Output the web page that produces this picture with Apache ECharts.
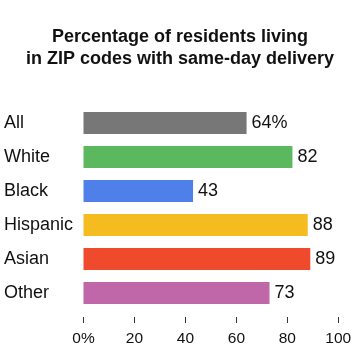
<!DOCTYPE html>
<html><head><meta charset="utf-8">
<script src="https://cdn.jsdelivr.net/npm/echarts@6/dist/echarts.min.js"></script>
<style>html,body{margin:0;padding:0;background:#fff}#c{width:360px;height:360px}</style>
</head><body><div id="c"></div>
<script>
const titleLines = ['Percentage of residents living', 'in ZIP codes with same-day delivery'];
const categories = ['All', 'White', 'Black', 'Hispanic', 'Asian', 'Other'];
const values = [64, 82, 43, 88, 89, 73];
const colors = ['#777777', '#5cb85f', '#4f80e9', '#f5bc1f', '#ef4a2b', '#bf67a9'];
const tickLabels = ['0%', '20', '40', '60', '80', '100'];

const font = '"Liberation Sans", Arial, sans-serif';
const chart = echarts.init(document.getElementById('c'), null, {renderer: 'canvas'});
chart.setOption({
  animation: false,
  title: {
    text: titleLines.join('\n'),
    left: 'center', top: 21,
    textStyle: {fontFamily: font, fontSize: 18, fontWeight: 'bold', color: '#111', lineHeight: 22}
  },
  grid: {left: 83.5, right: 21.7, top: 106, bottom: 50, containLabel: false},
  xAxis: {
    type: 'value', min: 0, max: 100, interval: 20, position: 'bottom', offset: 7,
    axisLine: {show: false},
    axisTick: {show: true, length: 6, lineStyle: {color: '#333'}},
    splitLine: {show: false},
    axisLabel: {margin: 14, fontFamily: font, fontSize: 15.5, color: '#111',
      formatter: (v) => tickLabels[Math.round(v / 20)]}
  },
  yAxis: {
    type: 'category', data: categories, inverse: true,
    axisLine: {show: false}, axisTick: {show: false},
    axisLabel: {align: 'left', margin: 79.5, fontFamily: font, fontSize: 18, color: '#111'}
  },
  series: [{
    type: 'bar', barWidth: 22,
    data: values.map((v, i) => ({value: v, itemStyle: {color: colors[i]}})),
    label: {show: true, position: 'right', distance: 5, fontFamily: font, fontSize: 18, color: '#111',
      formatter: (p) => p.dataIndex === 0 ? p.value + '%' : String(p.value)}
  }]
});
</script></body></html>
